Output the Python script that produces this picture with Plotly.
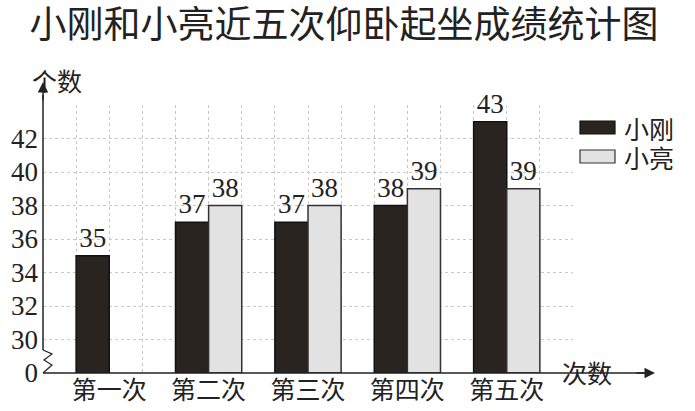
import plotly.graph_objects as go

title = "小刚和小亮近五次仰卧起坐成绩统计图"
categories = ["第一次", "第二次", "第三次", "第四次", "第五次"]
series_names = ["小刚", "小亮"]
xiaogang = [35, 37, 37, 38, 43]
xiaoliang = [None, 38, 38, 39, 39]
ytick_vals = [28, 30, 32, 34, 36, 38, 40, 42, 44]
ytick_text = ["0", "30", "32", "34", "36", "38", "40", "42", ""]
y_axis_title = "个数"
x_axis_title = "次数"

NUM_FONT = "'Liberation Serif', 'Times New Roman', serif"
CJK_FONT = "Noto Sans CJK SC"
DARK = "#2a2421"
LIGHT = "#e2e2e2"
W, H = 695, 411
L, R, T, B = 43, 122, 105, 38
PW, PH = W - L - R, H - T - B

def px(x):
    return (x - L) / PW

def py(y):
    return (H - B - y) / PH

fig = go.Figure()
fig.add_trace(go.Bar(
    x=categories, y=[v - 28 if v is not None else None for v in xiaogang], base=28,
    name=series_names[0], marker=dict(color=DARK, line=dict(color="#111", width=1.5)),
    text=[str(v) for v in xiaogang], textposition="outside", constraintext="none",
    textfont=dict(family=NUM_FONT, size=27, color="#222"), cliponaxis=False, showlegend=False,
))
fig.add_trace(go.Bar(
    x=categories, y=[v - 28 if v is not None else None for v in xiaoliang], base=28,
    name=series_names[1], marker=dict(color=LIGHT, line=dict(color="#333", width=1.5)),
    text=[str(v) if v is not None else "" for v in xiaoliang], textposition="outside", constraintext="none",
    textfont=dict(family=NUM_FONT, size=27, color="#222"), cliponaxis=False, showlegend=False,
))
# helper trace for the fine vertical grid
fig.add_trace(go.Scatter(x=[0, 16], y=[28, 28], xaxis="x2", mode="lines",
                         line=dict(width=0), hoverinfo="skip", showlegend=False))

fig.update_layout(
    width=W, height=H, margin=dict(l=L, r=R, t=T, b=B, autoexpand=False),
    paper_bgcolor="white", plot_bgcolor="white",
    barmode="group", bargap=1/3, bargroupgap=0,
    font=dict(family=NUM_FONT, size=26, color="#222"),
    title=dict(text=title, x=0.495, xanchor="center", y=1 - 25 / H, yanchor="middle", automargin=False,
               font=dict(family=CJK_FONT, size=37, color="#222")),
    xaxis=dict(type="category", range=[-2/3, 14/3], showgrid=False, showline=False, automargin=False,
               zeroline=False, ticks="", tickfont=dict(family=CJK_FONT, size=25, color="#222")),
    xaxis2=dict(range=[0, 16], overlaying="x", anchor="y", dtick=1, tick0=0, automargin=False,
                showgrid=True, gridcolor="#c8c8c8", griddash="dot", gridwidth=1,
                showticklabels=False, ticks="", zeroline=False, showline=False),
    yaxis=dict(range=[28, 44], tickvals=ytick_vals, ticktext=ytick_text, automargin=False,
               showgrid=True, gridcolor="#c8c8c8", griddash="dot", gridwidth=1,
               zeroline=False, showline=False, ticks="", ticklabelstandoff=4,
               tickfont=dict(family=NUM_FONT, size=27, color="#222")),
)

# axes with arrows and break
fig.add_shape(type="line", xref="paper", yref="paper", x0=px(43), x1=px(43), y0=py(350), y1=py(95),
              line=dict(color="#222", width=1.5))
fig.add_shape(type="path", xref="paper", yref="paper",
              path=f"M {px(43)},{py(350)} L {px(52)},{py(354)} L {px(44)},{py(360)} L {px(52)},{py(365)} L {px(43)},{py(373)}",
              line=dict(color="#222", width=1.2))
fig.add_shape(type="line", xref="paper", yref="paper", x0=px(43), x1=px(645), y0=py(373), y1=py(373),
              line=dict(color="#222", width=1.5))
fig.add_annotation(xref="paper", yref="paper", x=px(43), y=py(82), ax=0, ay=20, text="",
                   showarrow=True, arrowhead=2, arrowsize=1.4, arrowwidth=1.5, arrowcolor="#222")
fig.add_annotation(xref="paper", yref="paper", x=px(655), y=py(373), ax=-20, ay=0, text="",
                   showarrow=True, arrowhead=2, arrowsize=1.4, arrowwidth=1.5, arrowcolor="#222")
fig.add_annotation(xref="paper", yref="paper", x=px(30), y=py(60), text=y_axis_title, showarrow=False,
                   font=dict(family=CJK_FONT, size=25, color="#222"))
fig.add_annotation(xref="paper", yref="paper", x=px(614), y=py(392), text=x_axis_title, showarrow=False,
                   font=dict(family=CJK_FONT, size=25, color="#222"))

# legend
for i, (name, col, lc) in enumerate(zip(series_names, [DARK, LIGHT], ["#111", "#333"])):
    y0, y1 = 121 + 29 * i, 134 + 29 * i
    fig.add_shape(type="rect", xref="paper", yref="paper", x0=px(580), x1=px(615), y0=py(y1), y1=py(y0),
                  fillcolor=col, line=dict(color=lc, width=1.2))
    fig.add_annotation(xref="paper", yref="paper", x=px(622), y=py((y0 + y1) / 2), xanchor="left",
                       yanchor="middle", text=name, showarrow=False, height=28, valign="middle",
                       font=dict(family=CJK_FONT, size=25, color="#222"))

fig.write_html("out.html", config={"displayModeBar": False},
               post_script="document.body.style.margin='0';document.body.style.overflow='hidden';")
